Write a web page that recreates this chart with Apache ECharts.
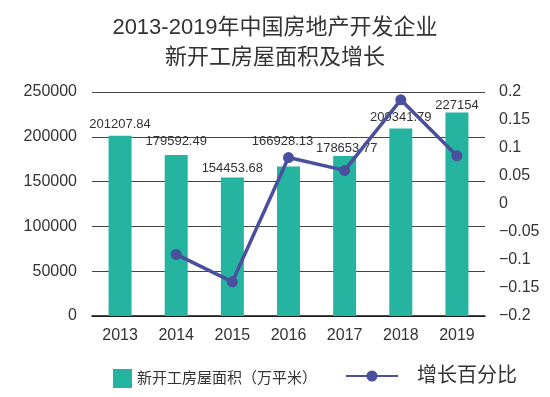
<!DOCTYPE html>
<html>
<head>
	<meta charset="utf-8">
	<title>新开工房屋面积及增长</title>
	<script src="https://cdn.jsdelivr.net/npm/echarts@6/dist/echarts.min.js"></script>
	<style>
        html,body{ height:100%; width:100%; margin:0; padding:0; background:#fff; }
        #chart{ width:550px; height:397px; }
    </style>
</head>
<body>
	<div id="chart"></div>
	<script type="text/javascript">
		var years = ['2013', '2014', '2015', '2016', '2017', '2018', '2019'];
		var areaValues = [201207.84, 179592.49, 154453.68, 166928.13, 178653.77, 209341.79, 227154];
		var growthValues = [null, -0.09, -0.139, 0.083, 0.06, 0.186, 0.086];
		var leftTicks = [0, 250000, 50000];   // min, max, interval
		var rightTicks = [-0.2, 0.2, 0.05];

		var FONT = '"Liberation Sans", "Noto Sans CJK SC", sans-serif';
		var chart = echarts.init(document.getElementById('chart'));

		// 标签位置微调（2016、2017 的数值标签被折线挡住，往上挪）
		var labelOffsets = [[0, 0], [0, -2], [0, 2], [-6, -14], [2, 4], [0, 0], [0, 4]];
		var barData = areaValues.map(function (v, i) {
			return { value: v, label: { offset: labelOffsets[i] } };
		});

		var option = {
			backgroundColor: '#ffffff',
			textStyle: { fontFamily: FONT },
			title: {
				text: '2013-2019年中国房地产开发企业\n新开工房屋面积及增长',
				left: 'center',
				top: 8,
				textStyle: { fontSize: 22, fontWeight: 'normal', color: '#333', lineHeight: 30, fontFamily: FONT }
			},
			grid: { left: 92, right: 65, top: 92, bottom: 81 },
			legend: [{
				data: [{ name: '新开工房屋面积（万平米）', icon: 'rect' }],
				left: 108, top: 364,
				itemWidth: 19, itemHeight: 19, itemGap: 7,
				textStyle: { fontSize: 15, color: '#333', fontFamily: FONT }
			}, {
				data: ['增长百分比'],
				left: 340, top: 361,
				itemWidth: 52, itemHeight: 14,
				textStyle: { fontSize: 20, color: '#333', padding: [0, 0, 0, 14], fontFamily: FONT }
			}],
			xAxis: {
				type: 'category',
				data: years,
				axisTick: { show: false },
				axisLine: { lineStyle: { color: '#111', width: 1.5 } },
				axisLabel: { fontSize: 16, color: '#333', margin: 12 }
			},
			yAxis: [{
				type: 'value',
				min: leftTicks[0], max: leftTicks[1], interval: leftTicks[2],
				axisLine: { show: false },
				axisTick: { show: false },
				axisLabel: {
					fontSize: 16, color: '#333', margin: 15,
					formatter: function (v) { return String(v); }
				},
				splitLine: { lineStyle: { color: '#444', width: 1 } }
			}, {
				type: 'value',
				min: rightTicks[0], max: rightTicks[1], interval: rightTicks[2],
				axisLine: { show: false },
				axisTick: { show: false },
				splitLine: { show: false },
				axisLabel: {
					fontSize: 16, color: '#333', margin: 14,
					formatter: function (v) {
						var s = String(Math.round(v * 100) / 100);
						return s.replace('-', '\u2212');
					}
				}
			}],
			series: [{
				name: '新开工房屋面积（万平米）',
				type: 'bar',
				data: barData,
				barWidth: 23,
				itemStyle: { color: '#25b4a0' },
				label: { show: true, position: 'top', fontSize: 13, color: '#333', distance: 5 }
			}, {
				name: '增长百分比',
				type: 'line',
				yAxisIndex: 1,
				data: growthValues,
				symbol: 'circle',
				symbolSize: 11,
				lineStyle: { color: '#4a4f9e', width: 3.5 },
				itemStyle: { color: '#4a4f9e' },
				z: 3
			}]
		};

		chart.setOption(option);
	</script>
</body>
</html>
